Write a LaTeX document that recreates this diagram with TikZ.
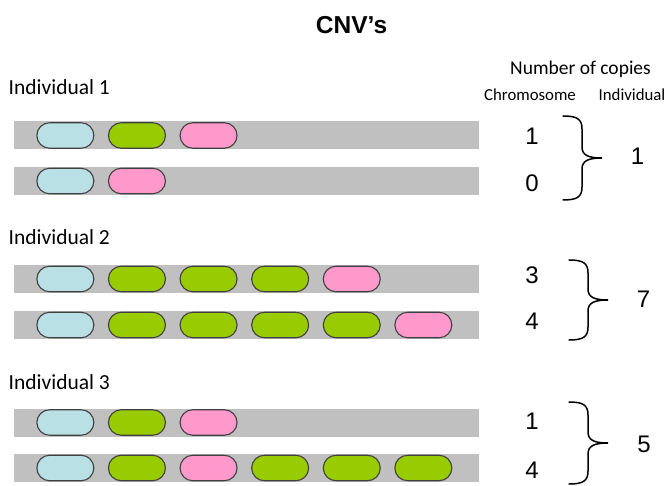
\documentclass[tikz,border=0pt]{standalone}
\usepackage{fontspec}
\setmainfont{Carlito}
\newfontfamily\arialfont{Liberation Sans}
\usepackage{xcolor}
\usepackage{tikz}
\usetikzlibrary{positioning, shapes.misc}
\definecolor{cnvGray}{HTML}{C0C0C0}
\definecolor{cnvBlue}{HTML}{B9E0E4}
\definecolor{cnvGreen}{HTML}{99CC00}
\definecolor{cnvPink}{HTML}{FF99CC}
\definecolor{cnvEdge}{HTML}{404040}
\tikzset{
  cnv-bar/.style={
    rectangle, fill=cnvGray, minimum width=465pt, minimum height=28pt,
    inner sep=0pt
  },
  cnv-gene/.style={
    rounded rectangle, draw=cnvEdge, line width=1.1pt,
    minimum width=57pt, minimum height=25.5pt, inner sep=0pt
  },
  cnv-label/.style={font=\fontsize{21.5}{24}\selectfont, anchor=base west, inner sep=0pt},
  cnv-head/.style={font=\fontsize{16.8}{20}\selectfont, anchor=base, inner sep=0pt},
  cnv-count/.style={font=\arialfont\fontsize{24}{28}\selectfont, inner sep=0pt},
  pics/cnv-brace/.style={code={
    \draw[line width=1.5pt, line cap=round]
      (-39,-#1) .. controls (-25,-#1) and (-20,{-#1+3}) .. (-20,{-#1+13})
      -- (-20,-11) .. controls (-20,-3) and (-14,0) .. (0,0)
      .. controls (-14,0) and (-20,3) .. (-20,11)
      -- (-20,{#1-13}) .. controls (-20,{#1-3}) and (-25,#1) .. (-39,#1);
  }},
}

\begin{document}
\begin{tikzpicture}[x=1pt, y=-1pt]
  \useasboundingbox (0,0) rectangle (669,486);

  \node[font=\arialfont\bfseries\fontsize{24.5}{28}\selectfont, anchor=base]
    (title) at (351.5,34) {CNV’s};

  % column heads
  \node[cnv-head, font=\fontsize{19.5}{22}\selectfont] (copies) at (580.5,75) {Number of copies};
  \node[cnv-head] (perchr) at (530,101) {Chromosome};
  \node[cnv-head] (perind) at (632,101) {Individual};

  % individuals and their chromosome pairs
  \node[cnv-label] (ind1) at (8.5,95)  {Individual 1};
  \node[cnv-label] (ind2) at (8.5,245) {Individual 2};
  \node[cnv-label] (ind3) at (8.5,389.5) {Individual 3};

  \node[cnv-bar] (c1) at (246.5,135.5) {};
  \node[cnv-bar] (c2) at (246.5,181)   {};
  \node[cnv-bar] (c3) at (246.5,279)   {};
  \node[cnv-bar] (c4) at (246.5,325)   {};
  \node[cnv-bar] (c5) at (246.5,422.5) {};
  \node[cnv-bar] (c6) at (246.5,468)   {};

  \foreach \ch/\genes in {
      c1/{cnvBlue,cnvGreen,cnvPink},
      c2/{cnvBlue,cnvPink},
      c3/{cnvBlue,cnvGreen,cnvGreen,cnvGreen,cnvPink},
      c4/{cnvBlue,cnvGreen,cnvGreen,cnvGreen,cnvGreen,cnvPink},
      c5/{cnvBlue,cnvGreen,cnvPink},
      c6/{cnvBlue,cnvGreen,cnvPink,cnvGreen,cnvGreen,cnvGreen}}
    \foreach \col [count=\i] in \genes
      \node[cnv-gene, fill=\col, right=22.5pt of \ch.west, xshift={(\i-1)*71.6pt}]
        (\ch-g\i) {};

  % copies per chromosome
  \node[cnv-count] (n1) at (532,136.5) {1};
  \node[cnv-count] (n2) at (532,183.5) {0};
  \node[cnv-count] (n3) at (532,275.5) {3};
  \node[cnv-count] (n4) at (532,321.5) {4};
  \node[cnv-count] (n5) at (532,421.5) {1};
  \node[cnv-count] (n6) at (532,470)   {4};

  % copies per individual
  \pic at (602,158) {cnv-brace=42};
  \pic at (608,300) {cnv-brace=40};
  \pic at (608,443) {cnv-brace=41};
  \node[cnv-count] (t1) at (637.5,156.5) {1};
  \node[cnv-count] (t2) at (643.5,299.5) {7};
  \node[cnv-count] (t3) at (644,444.5)   {5};
\end{tikzpicture}
\end{document}
